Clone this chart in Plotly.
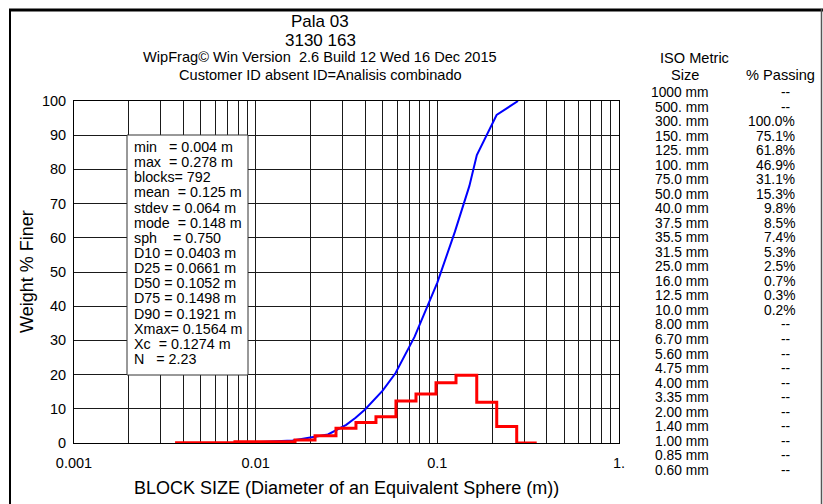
import plotly.graph_objects as go

# ---------------- data ----------------
# red histogram: bin edges (m) and weight % in each bin
bin_edges_m = [0.0036, 0.00463, 0.00597, 0.00769, 0.00991, 0.01277, 0.01647, 0.02122,
               0.02768, 0.03565, 0.04594, 0.05918, 0.0763, 0.09833, 0.1267, 0.1648,
               0.2123, 0.2735, 0.3524]
bin_pct = [0.1, 0.1, 0.1, 0.4, 0.4, 0.4, 0.9, 2.1, 4.3, 6.0, 7.7, 12.3, 14.3, 17.6,
           19.8, 11.9, 4.8, 0.0]

# blue cumulative curve: size (m) and % finer
cum_size_m = [0.0079, 0.01, 0.0125, 0.016, 0.025, 0.0315, 0.0355, 0.0375, 0.04, 0.05,
              0.0588, 0.075, 0.1, 0.125, 0.15, 0.165, 0.212, 0.278]
cum_pct = [0.0, 0.2, 0.3, 0.7, 2.5, 5.3, 7.4, 8.5, 9.8, 15.3, 20.4, 31.1, 46.9, 61.8,
           75.1, 84.2, 95.9, 100.0]

# x tick labels
x_major = [0.001, 0.01, 0.1, 1.0]
x_major_text = ["0.001", "0.01", "0.1", "1."]

# statistics box
stats_lines = ["min   = 0.004 m", "max  = 0.278 m", "blocks= 792", "mean  = 0.125 m",
               "stdev = 0.064 m", "mode  = 0.148 m", "sph    = 0.750", "D10 = 0.0403 m",
               "D25 = 0.0661 m", "D50 = 0.1052 m", "D75 = 0.1498 m", "D90 = 0.1921 m",
               "Xmax= 0.1564 m", "Xc  = 0.1274 m", "N   = 2.23"]

# ISO table
iso_sizes = ["1000 mm", "500. mm", "300. mm", "150. mm", "125. mm", "100. mm", "75.0 mm",
             "50.0 mm", "40.0 mm", "37.5 mm", "35.5 mm", "31.5 mm", "25.0 mm", "16.0 mm",
             "12.5 mm", "10.0 mm", "8.00 mm", "6.70 mm", "5.60 mm", "4.75 mm", "4.00 mm",
             "3.35 mm", "2.00 mm", "1.40 mm", "1.00 mm", "0.85 mm", "0.60 mm"]
iso_passing = ["--", "--", "100.0%", "75.1%", "61.8%", "46.9%", "31.1%", "15.3%", "9.8%",
               "8.5%", "7.4%", "5.3%", "2.5%", "0.7%", "0.3%", "0.2%", "--", "--", "--",
               "--", "--", "--", "--", "--", "--", "--", "--"]

title_lines = ["Pala 03", "3130 163",
               "WipFrag\u00a9 Win Version  2.6 Build 12 Wed 16 Dec 2015",
               "Customer ID absent ID=Analisis combinado"]

# ---------------- layout geometry ----------------
W, H = 823, 504
L, R, T, B = 74, 619, 101, 443
FONT = "Liberation Sans, Arial, sans-serif"
SMALL = 14.6
STATS = 14.3
TABLE = 13.8


def ax(px):
    return (px - L) / (R - L)


def ay(py):
    return (B - py) / (B - T)


def nb(s):
    return s.replace(" ", "\u00a0")


grid_vals = []
grid_text = []
for e in (-3, -2, -1):
    for k in range(1, 10):
        v = round(k * 10 ** e, 6)
        grid_vals.append(v)
        grid_text.append("")
grid_vals.append(1.0)
grid_text.append("")
for v, t in zip(x_major, x_major_text):
    for i, g in enumerate(grid_vals):
        if abs(g - v) < 1e-9:
            grid_text[i] = t

fig = go.Figure()
fig.add_trace(go.Scatter(x=cum_size_m, y=cum_pct, mode="lines",
                         line=dict(color="#0000ff", width=2), hoverinfo="skip"))
fig.add_trace(go.Scatter(x=bin_edges_m, y=bin_pct + [bin_pct[-1]], mode="lines",
                         line=dict(color="#ff0000", width=3, shape="hv"), hoverinfo="skip"))

ann = []
title_y = [21, 40, 57.5, 74.5]
title_sz = [17, 17, SMALL, SMALL]
for t, y, s in zip(title_lines, title_y, title_sz):
    ann.append(dict(x=ax(320), y=ay(y), xref="paper", yref="paper", text=nb(t),
                    showarrow=False, xanchor="center", yanchor="middle",
                    font=dict(size=s, family=FONT, color="#000")))

# axis titles
ann.append(dict(x=ax(346.5), y=ay(488), xref="paper", yref="paper",
                text="BLOCK SIZE (Diameter of an Equivalent Sphere (m))", showarrow=False,
                xanchor="center", yanchor="middle", font=dict(size=18, family=FONT, color="#000")))
ann.append(dict(x=ax(27), y=ay(272), xref="paper", yref="paper", text="Weight % Finer",
                textangle=-90, showarrow=False, xanchor="center", yanchor="middle",
                font=dict(size=18, family=FONT, color="#000")))

# stats
for i, s in enumerate(stats_lines):
    ann.append(dict(x=ax(132), y=ay(147 + i * 15.14), xref="paper", yref="paper", text=nb(s),
                    showarrow=False, xanchor="left", yanchor="middle",
                    font=dict(size=STATS, family=FONT, color="#000")))

# ISO table
ann.append(dict(x=ax(694), y=ay(58), xref="paper", yref="paper", text="ISO Metric",
                showarrow=False, xanchor="center", yanchor="middle",
                font=dict(size=SMALL, family=FONT, color="#000")))
ann.append(dict(x=ax(685), y=ay(75), xref="paper", yref="paper", text="Size",
                showarrow=False, xanchor="center", yanchor="middle",
                font=dict(size=SMALL, family=FONT, color="#000")))
ann.append(dict(x=ax(817), y=ay(75), xref="paper", yref="paper", text="%\u00a0Passing",
                showarrow=False, xanchor="right", yanchor="middle",
                font=dict(size=SMALL, family=FONT, color="#000")))
for i, (sz, p) in enumerate(zip(iso_sizes, iso_passing)):
    yy = ay(92.5 + i * 14.53)
    ann.append(dict(x=ax(711), y=yy, xref="paper", yref="paper", text=nb(sz),
                    showarrow=False, xanchor="right", yanchor="middle",
                    font=dict(size=TABLE, family=FONT, color="#000")))
    if p == "--":
        ann.append(dict(x=ax(785), y=yy, xref="paper", yref="paper", text=p,
                        showarrow=False, xanchor="center", yanchor="middle",
                        font=dict(size=TABLE, family=FONT, color="#000")))
    else:
        ann.append(dict(x=ax(797), y=yy, xref="paper", yref="paper", text=p,
                        showarrow=False, xanchor="right", yanchor="middle",
                        font=dict(size=TABLE, family=FONT, color="#000")))

shapes = [
    # stats box
    dict(type="rect", xref="paper", yref="paper", x0=ax(127), x1=ax(248), y0=ay(375), y1=ay(135),
         fillcolor="white", line=dict(color="#333", width=1), layer="above"),
    # outer frame
    dict(type="line", xref="paper", yref="paper", x0=ax(9), x1=ax(823), y0=ay(10), y1=ay(10),
         line=dict(color="#000", width=3)),
    dict(type="line", xref="paper", yref="paper", x0=ax(10), x1=ax(10), y0=ay(9), y1=ay(504),
         line=dict(color="#000", width=2)),
    dict(type="line", xref="paper", yref="paper", x0=ax(821.5), x1=ax(821.5), y0=ay(9), y1=ay(504),
         line=dict(color="#555", width=1.5)),
]

fig.update_layout(
    width=W, height=H,
    margin=dict(l=L, r=W - R, t=T, b=H - B, pad=0),
    paper_bgcolor="white", plot_bgcolor="white", showlegend=False,
    font=dict(family=FONT, size=14, color="#000"),
    annotations=ann, shapes=shapes,
    xaxis=dict(type="log", range=[-3, 0], tickvals=grid_vals, ticktext=grid_text,
               showgrid=True, gridcolor="#1a1a1a", gridwidth=1, showline=True,
               linecolor="#000", linewidth=1, mirror=True, ticks="", zeroline=False,
               ticklabelstandoff=7, tickfont=dict(size=14.5, family=FONT, color="#000")),
    yaxis=dict(range=[0, 100], tick0=0, dtick=10, showgrid=True, gridcolor="#1a1a1a",
               gridwidth=1, showline=True, linecolor="#000", linewidth=1, mirror=True,
               ticks="", zeroline=False, ticklabelstandoff=4,
               tickfont=dict(size=14.5, family=FONT, color="#000")),
)

fig.write_html("out.html")
